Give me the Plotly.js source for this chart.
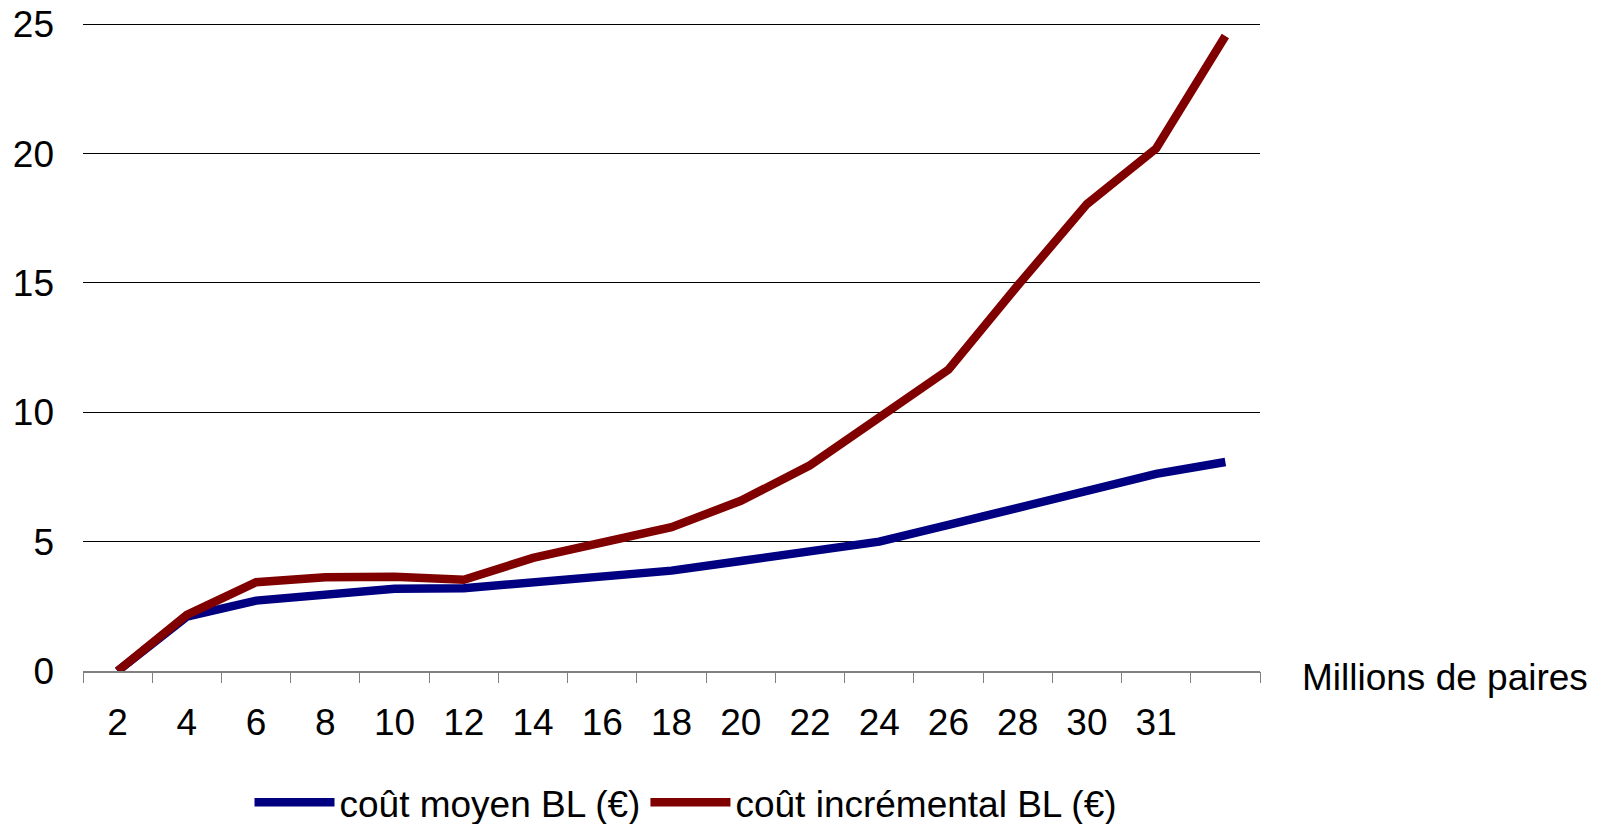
<!DOCTYPE html>
<html>
<head>
<meta charset="utf-8">
<script src="https://cdn.plot.ly/plotly-3.0.1.min.js"></script>
<style>html,body{margin:0;padding:0;background:#fff;}#chart{width:1613px;height:824px;}</style>
</head>
<body>
<div id="chart"></div>
<script>
const categories = ["2","4","6","8","10","12","14","16","18","20","22","24","26","28","30","31",""];
const coutMoyen = [0, 2.1, 2.72, 2.98, 3.18, 3.2, 3.41, 3.65, 3.88, 4.25, 4.6, 5.0, 5.65, 6.3, 7.02, 7.62, 8.08];
const coutIncremental = [0, 2.17, 3.43, 3.62, 3.64, 3.53, 4.37, 4.93, 5.56, 6.58, 7.95, 9.8, 11.65, 14.9, 18.05, 20.2, 24.55];
const yTicks = [0, 5, 10, 15, 20, 25];
const seriesNames = ["coût moyen BL (€)", "coût incrémental BL (€)"];
const axisTitle = "Millions de paires";

const idx = categories.map((c, i) => i);
const bounds = categories.map((c, i) => i - 0.5).concat([categories.length - 0.5]);
const FONT = "Liberation Sans, Arial, sans-serif";
const FS = 37;

const traces = [
  {x: idx, y: coutMoyen, name: seriesNames[0], type: "scatter", mode: "lines",
   line: {color: "#000080", width: 8.5}},
  {x: idx, y: coutIncremental, name: seriesNames[1], type: "scatter", mode: "lines",
   line: {color: "#800000", width: 8.5}},
  {x: [bounds[0]], y: [0], xaxis: "x2", yaxis: "y", mode: "markers", marker: {opacity: 0}, showlegend: false, hoverinfo: "skip"}
];

const layout = {
  width: 1613, height: 824,
  margin: {l: 83, r: 353, t: 23, b: 153, pad: 0},
  paper_bgcolor: "#fff", plot_bgcolor: "#fff",
  font: {family: FONT, size: FS, color: "#000"},
  showlegend: true,
  legend: {orientation: "h", xref: "container", yref: "container", x: 0.4253, xanchor: "center", y: 0.026, yanchor: "middle",
           font: {family: FONT, size: FS, color: "#000"}, itemwidth: 80, tracegroupgap: 0},
  xaxis: {range: [-0.5, categories.length - 0.5], tickmode: "array", tickvals: idx, ticktext: categories,
          ticks: "", showgrid: false, zeroline: false, showline: true, linecolor: "#808080", linewidth: 1.5,
          ticklabelstandoff: 18, tickfont: {family: FONT, size: FS, color: "#000"}, fixedrange: true},
  xaxis2: {overlaying: "x", anchor: "y", side: "bottom", range: [-0.5, categories.length - 0.5],
           tickmode: "array", tickvals: bounds, ticks: "outside", ticklen: 11, tickwidth: 1, tickcolor: "#808080",
           showticklabels: false, showgrid: false, zeroline: false, showline: false},
  yaxis: {range: [0, 25.05], tickmode: "array", tickvals: yTicks, ticks: "", showline: false,
          showgrid: true, gridcolor: "#000", gridwidth: 1, zeroline: false,
          ticklabelstandoff: 28, tickfont: {family: FONT, size: FS, color: "#000"}},
  annotations: [{text: axisTitle, xref: "paper", yref: "paper", x: 1, y: 0, xanchor: "left", yanchor: "middle",
                 xshift: 40, yshift: -6, showarrow: false, font: {family: FONT, size: FS, color: "#000"}}]
};

Plotly.newPlot("chart", traces, layout, {staticPlot: true, displayModeBar: false});
</script>
</body>
</html>
